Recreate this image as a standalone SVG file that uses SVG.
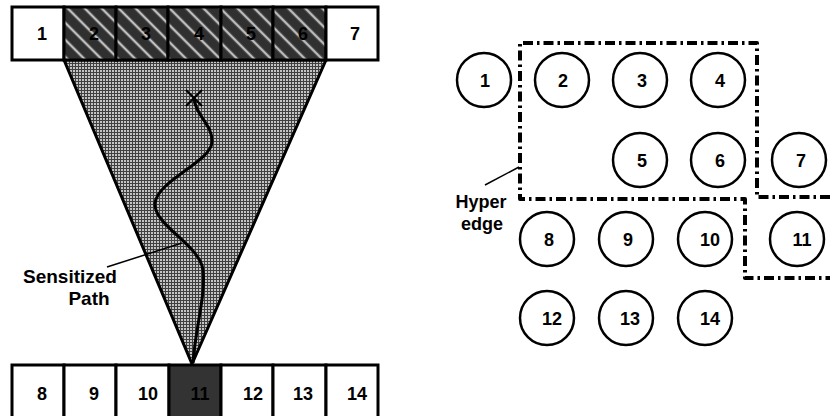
<svg xmlns="http://www.w3.org/2000/svg" width="830" height="416" viewBox="0 0 830 416">
<style>
text{font-family:"Liberation Sans",Arial,sans-serif;font-weight:bold;font-size:18px;fill:#000}
.c{text-anchor:middle}
.cell{stroke:#000;stroke-width:3}
.node circle{fill:#fff;stroke:#000;stroke-width:2.5}
.hyper{fill:none;stroke:#000;stroke-width:4;stroke-dasharray:10 4 2.5 4;stroke-linejoin:round}
.lead{stroke:#000;stroke-width:1.5;fill:none}
</style>
<defs>
<pattern id="grid" width="3" height="3" patternUnits="userSpaceOnUse">
<rect width="3" height="3" fill="#c4c4c4"/>
<rect width="3" height="1" fill="#404040"/>
<rect width="1" height="3" fill="#404040"/>
</pattern>
<pattern id="hatch" width="12" height="12" patternUnits="userSpaceOnUse" patternTransform="rotate(-45)">
<rect width="12" height="12" fill="#303030"/>
<rect x="4.5" width="3" height="12" fill="#707070"/>
<rect x="5.3" width="1.4" height="12" fill="#e0e0e0"/>
</pattern>
</defs>

<g id="cone">
<polygon points="64,60 326,60 192,364" fill="url(#grid)" stroke="#000" stroke-width="3" stroke-linejoin="round"/>
</g>

<g id="top-row">
<g id="cell1"><rect class="cell" x="12" y="7" width="52" height="53" fill="#fff"/><text class="c" x="42" y="40">1</text></g>
<g id="cell2"><rect class="cell" x="64" y="7" width="52" height="53" fill="url(#hatch)"/><text class="c" x="94" y="40">2</text></g>
<g id="cell3"><rect class="cell" x="116" y="7" width="52" height="53" fill="url(#hatch)"/><text class="c" x="146" y="40">3</text></g>
<g id="cell4"><rect class="cell" x="168" y="7" width="53" height="53" fill="url(#hatch)"/><text class="c" x="199" y="40">4</text></g>
<g id="cell5"><rect class="cell" x="221" y="7" width="52" height="53" fill="url(#hatch)"/><text class="c" x="251" y="40">5</text></g>
<g id="cell6"><rect class="cell" x="273" y="7" width="53" height="53" fill="url(#hatch)"/><text class="c" x="303" y="40">6</text></g>
<g id="cell7"><rect class="cell" x="326" y="7" width="52" height="53" fill="#fff"/><text class="c" x="355" y="40">7</text></g>
</g>

<g id="bottom-row">
<g id="cell8"><rect class="cell" x="12" y="365" width="52" height="60" fill="#fff"/><text class="c" x="42" y="400">8</text></g>
<g id="cell9"><rect class="cell" x="64" y="365" width="52" height="60" fill="#fff"/><text class="c" x="94" y="400">9</text></g>
<g id="cell10"><rect class="cell" x="116" y="365" width="53" height="60" fill="#fff"/><text class="c" x="148" y="400">10</text></g>
<g id="cell11"><rect class="cell" x="169" y="365" width="52" height="60" fill="#333"/><text class="c" x="200" y="400">11</text></g>
<g id="cell12"><rect class="cell" x="221" y="365" width="52" height="60" fill="#fff"/><text class="c" x="253" y="400">12</text></g>
<g id="cell13"><rect class="cell" x="273" y="365" width="53" height="60" fill="#fff"/><text class="c" x="303" y="400">13</text></g>
<g id="cell14"><rect class="cell" x="326" y="365" width="52" height="60" fill="#fff"/><text class="c" x="357" y="400">14</text></g>
</g>

<g id="sensitized-path">
<path d="M186,90 L202,106 M202,90 L186,106" stroke="#000" stroke-width="2" fill="none"/>
<path d="M194,98 C195,115 213,125 212,142 C211,162 158,180 155,203 C153,225 200,245 203,270 C206,295 195,330 193,363" stroke="#000" stroke-width="3" fill="none"/>
<line class="lead" x1="107" y1="267" x2="182" y2="243"/>
<text x="23" y="283" style="font-size:19px">Sensitized</text>
<text class="c" x="89" y="305" style="font-size:19px">Path</text>
</g>

<g id="connectors">
<polyline class="hyper" points="830,197 757,197 757,43 520,43 520,199 745,199 745,278 830,278"/>
<line class="lead" x1="485" y1="185" x2="519" y2="167"/>
</g>
<text class="c" x="481" y="208">Hyper</text>
<text class="c" x="482" y="230">edge</text>

<g id="n1" class="node"><circle cx="484" cy="80" r="27"/><text class="c" x="485" y="87">1</text></g>
<g id="n2" class="node"><circle cx="562" cy="80" r="27"/><text class="c" x="563" y="87">2</text></g>
<g id="n3" class="node"><circle cx="640" cy="80" r="27"/><text class="c" x="642" y="87">3</text></g>
<g id="n4" class="node"><circle cx="718" cy="80" r="27"/><text class="c" x="720" y="87">4</text></g>
<g id="n5" class="node"><circle cx="640" cy="160" r="27"/><text class="c" x="642" y="167">5</text></g>
<g id="n6" class="node"><circle cx="718" cy="160" r="27"/><text class="c" x="720" y="167">6</text></g>
<g id="n7" class="node"><circle cx="799" cy="160" r="27"/><text class="c" x="801" y="167">7</text></g>
<g id="n8" class="node"><circle cx="547" cy="239" r="27"/><text class="c" x="549" y="246">8</text></g>
<g id="n9" class="node"><circle cx="626" cy="239" r="27"/><text class="c" x="628" y="246">9</text></g>
<g id="n10" class="node"><circle cx="705" cy="239" r="27"/><text class="c" x="710" y="246">10</text></g>
<g id="n11" class="node"><circle cx="797" cy="239" r="27"/><text class="c" x="802" y="246">11</text></g>
<g id="n12" class="node"><circle cx="547" cy="318" r="27"/><text class="c" x="552" y="325">12</text></g>
<g id="n13" class="node"><circle cx="626" cy="318" r="27"/><text class="c" x="630" y="325">13</text></g>
<g id="n14" class="node"><circle cx="705" cy="318" r="27"/><text class="c" x="710" y="325">14</text></g>
</svg>
